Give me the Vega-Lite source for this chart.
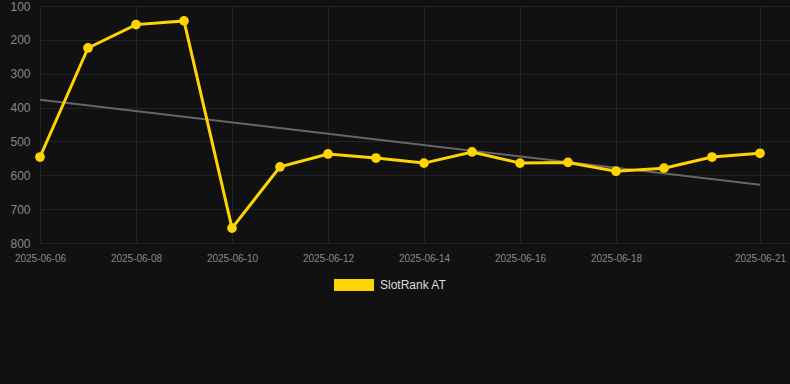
{
  "$schema": "https://vega.github.io/schema/vega-lite/v6.json",
  "width": 750,
  "height": 237,
  "autosize": {"type": "none"},
  "padding": {"left": 40, "top": 6, "right": 0, "bottom": 141},
  "background": "#111111",
  "config": {
    "view": {"stroke": null},
    "font": "Liberation Sans",
    "axis": {"domain": false, "ticks": false, "gridColor": "#222222", "gridWidth": 1, "labelColor": "#888888"}
  },
  "datasets": {
    "main": [
      {"date": "2025-06-06", "rank": 546},
      {"date": "2025-06-07", "rank": 224},
      {"date": "2025-06-08", "rank": 155},
      {"date": "2025-06-09", "rank": 144},
      {"date": "2025-06-10", "rank": 756},
      {"date": "2025-06-11", "rank": 575},
      {"date": "2025-06-12", "rank": 537},
      {"date": "2025-06-13", "rank": 549},
      {"date": "2025-06-14", "rank": 564},
      {"date": "2025-06-15", "rank": 531},
      {"date": "2025-06-16", "rank": 564},
      {"date": "2025-06-17", "rank": 562},
      {"date": "2025-06-18", "rank": 588},
      {"date": "2025-06-19", "rank": 579},
      {"date": "2025-06-20", "rank": 546},
      {"date": "2025-06-21", "rank": 535}
    ],
    "trend": [
      {"date": "2025-06-06", "rank": 377},
      {"date": "2025-06-21", "rank": 628}
    ]
  },
  "encoding": {
    "x": {
      "field": "date",
      "type": "temporal",
      "scale": {
        "type": "utc",
        "domain": [
          {"year": 2025, "month": 6, "date": 6, "utc": true},
          {"year": 2025, "month": 6, "date": 21, "hours": 15, "utc": true}
        ]
      },
      "axis": {
        "title": null,
        "format": "%Y-%m-%d",
        "labelFontSize": 10,
        "labelPadding": 10,
        "labelOverlap": false,
        "labelFlush": false,
        "values": [
          {"year": 2025, "month": 6, "date": 6, "utc": true},
          {"year": 2025, "month": 6, "date": 8, "utc": true},
          {"year": 2025, "month": 6, "date": 10, "utc": true},
          {"year": 2025, "month": 6, "date": 12, "utc": true},
          {"year": 2025, "month": 6, "date": 14, "utc": true},
          {"year": 2025, "month": 6, "date": 16, "utc": true},
          {"year": 2025, "month": 6, "date": 18, "utc": true},
          {"year": 2025, "month": 6, "date": 21, "utc": true}
        ]
      }
    },
    "y": {
      "field": "rank",
      "type": "quantitative",
      "scale": {"domain": [100, 800], "reverse": true, "nice": false},
      "axis": {
        "title": null,
        "values": [100, 200, 300, 400, 500, 600, 700, 800],
        "labelFontSize": 12,
        "labelPadding": 10
      }
    }
  },
  "layer": [
    {
      "data": {"name": "trend"},
      "mark": {"type": "line", "color": "#666666", "strokeWidth": 2}
    },
    {
      "data": {"name": "main"},
      "mark": {"type": "line", "strokeWidth": 3, "point": {"filled": true, "size": 95, "opacity": 1}},
      "encoding": {
        "color": {
          "datum": "SlotRank AT",
          "type": "nominal",
          "scale": {"range": ["#FFD400"]},
          "legend": {
            "title": null,
            "orient": "none",
            "legendX": 294,
            "legendY": 259,
            "symbolType": "M-1,-0.3H1V0.3H-1Z",
            "symbolSize": 1600,
            "symbolStrokeWidth": 0,
            "symbolOpacity": 1,
            "labelColor": "#dddddd",
            "labelFontSize": 12,
            "labelOffset": 6
          }
        }
      }
    }
  ]
}
